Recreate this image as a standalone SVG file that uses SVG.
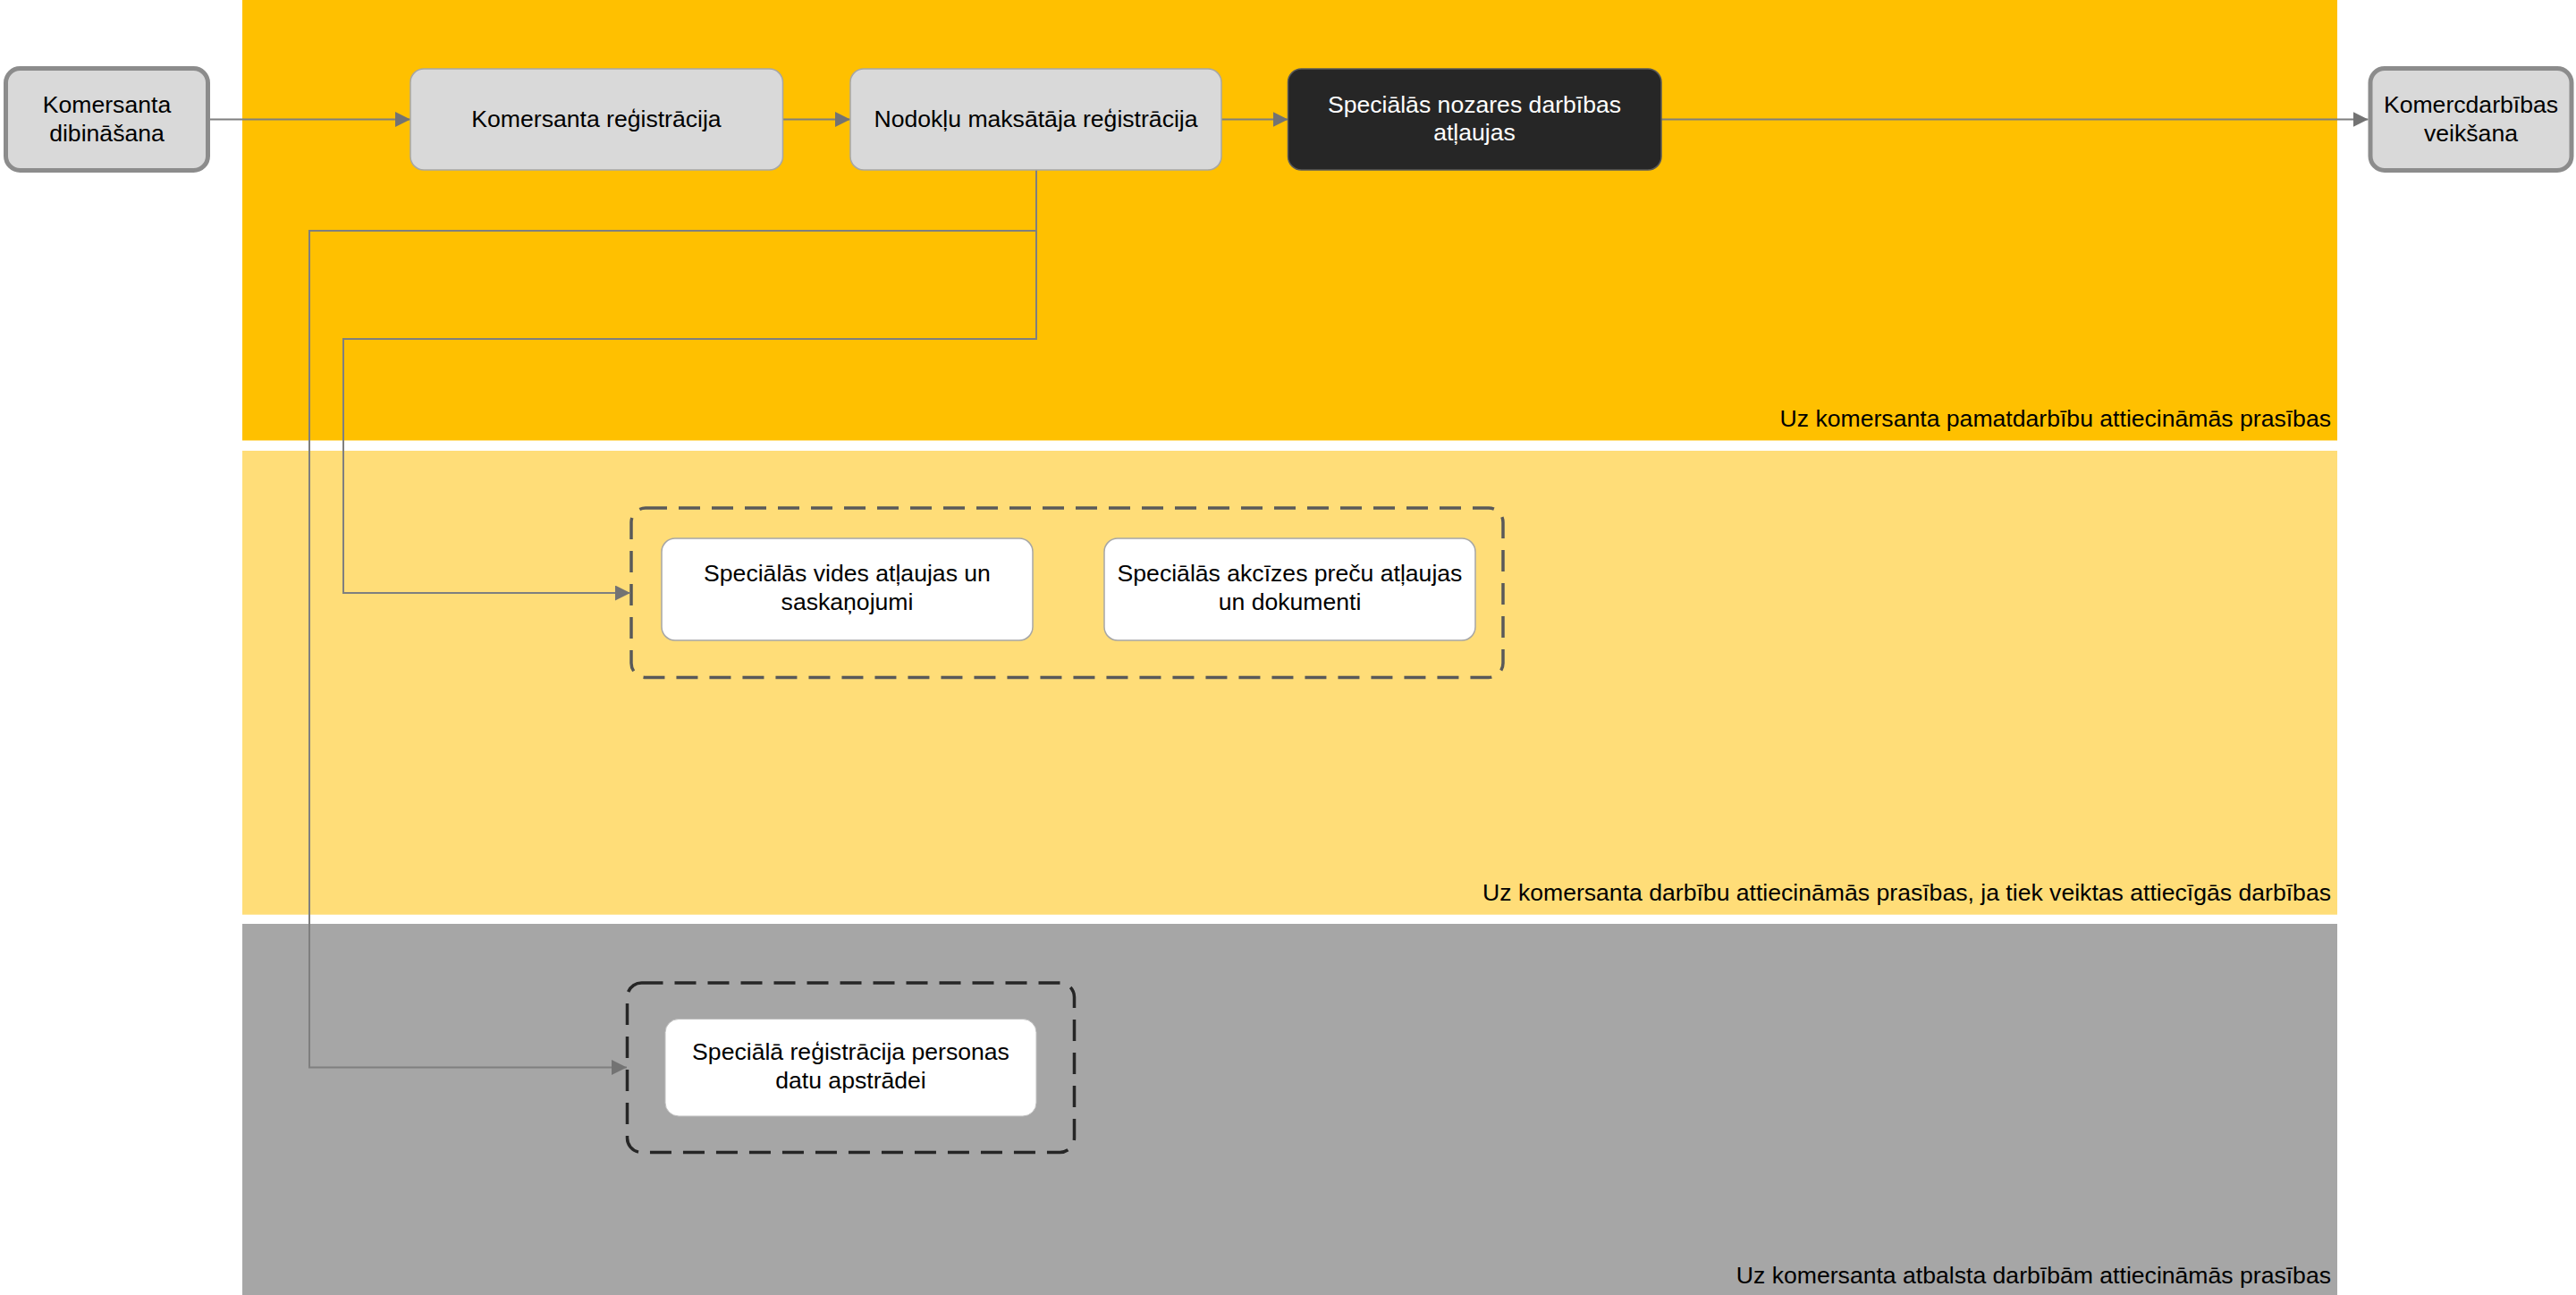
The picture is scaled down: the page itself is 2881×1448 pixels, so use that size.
<svg xmlns="http://www.w3.org/2000/svg" width="2881" height="1448" viewBox="0 0 2881 1448">
<style>
text{font-family:"Liberation Sans",Arial,sans-serif;font-size:26.6px;fill:#000}
.c{text-anchor:middle}
.lbl{text-anchor:end}
.w{fill:#fff}
.term{fill:#d9d9d9;stroke:#8c8c8c;stroke-width:5}
.step{fill:#d9d9d9;stroke:#a6a6a6;stroke-width:1.5}
.dark{fill:#262626;stroke:#595959;stroke-width:1.5}
.white{fill:#fff;stroke:#a6a6a6;stroke-width:1.5}
.grp{fill:none;stroke-width:3.5;stroke-dasharray:24 13}
.conn{fill:none;stroke:#7f7f7f;stroke-width:2}
</style>
<defs>
<marker id="arr" viewBox="0 0 17 17" refX="17" refY="8.5" markerWidth="17" markerHeight="17" markerUnits="userSpaceOnUse" orient="auto">
<path d="M0,0 L17,8.5 L0,17 z" fill="#737373"/>
</marker>
</defs>
<g id="bands">
<rect x="271" y="0" width="2343" height="492.5" fill="#ffc000"/>
<rect x="271" y="504" width="2343" height="518.7" fill="#ffdd78"/>
<rect x="271" y="1033" width="2343" height="415" fill="#a6a6a6"/>
<text class="lbl" x="2607" y="477">Uz komersanta pamatdarbību attiecināmās prasības</text>
<text class="lbl" x="2607" y="1006.5">Uz komersanta darbību attiecināmās prasības, ja tiek veiktas attiecīgās darbības</text>
<text class="lbl" x="2607" y="1435">Uz komersanta atbalsta darbībām attiecināmās prasības</text>
</g>
<g id="group-yellow">
<rect class="grp" x="706" y="568" width="975" height="189.5" rx="16" stroke="#595959"/>
</g>
<g id="group-gray">
<rect class="grp" x="701.5" y="1099" width="500" height="189.5" rx="16" stroke="#262626"/>
</g>
<g id="connectors">
<line class="conn" x1="235" y1="133.5" x2="459" y2="133.5" marker-end="url(#arr)"/>
<line class="conn" x1="875.5" y1="133.5" x2="951" y2="133.5" marker-end="url(#arr)"/>
<line class="conn" x1="1366" y1="133.5" x2="1440.5" y2="133.5" marker-end="url(#arr)"/>
<line class="conn" x1="1858" y1="133.5" x2="2648.5" y2="133.5" marker-end="url(#arr)"/>
<polyline class="conn" points="1159,190 1159,379 384,379 384,663 705,663" marker-end="url(#arr)"/>
<polyline class="conn" points="1159,190 1159,258 346,258 346,1193.5 701,1193.5" marker-end="url(#arr)"/>
</g>
<g id="n-dibinasana">
<rect class="term" x="6.5" y="76.5" width="226" height="114" rx="16"/>
<text class="c" x="119.5" y="125.5">Komersanta</text>
<text class="c" x="119.5" y="157.5">dibināšana</text>
</g>
<g id="n-registracija">
<rect class="step" x="459" y="77" width="416.5" height="113" rx="15"/>
<text class="c" x="667" y="142">Komersanta reģistrācija</text>
</g>
<g id="n-nodoklu">
<rect class="step" x="951" y="77" width="415" height="113" rx="15"/>
<text class="c" x="1158.5" y="142">Nodokļu maksātāja reģistrācija</text>
</g>
<g id="n-nozares">
<rect class="dark" x="1440.5" y="77" width="417.5" height="113" rx="15"/>
<text class="c w" x="1649" y="125.5">Speciālās nozares darbības</text>
<text class="c w" x="1649" y="157">atļaujas</text>
</g>
<g id="n-veiksana">
<rect class="term" x="2651" y="76.5" width="225" height="114" rx="16"/>
<text class="c" x="2763.5" y="125.5">Komercdarbības</text>
<text class="c" x="2763.5" y="157.5">veikšana</text>
</g>
<g id="n-vides">
<rect class="white" x="740" y="602" width="415" height="114" rx="15"/>
<text class="c" x="947.5" y="650">Speciālās vides atļaujas un</text>
<text class="c" x="947.5" y="681.5">saskaņojumi</text>
</g>
<g id="n-akcizes">
<rect class="white" x="1235" y="602" width="415" height="114" rx="15"/>
<text class="c" x="1442.5" y="650">Speciālās akcīzes preču atļaujas</text>
<text class="c" x="1442.5" y="681.5">un dokumenti</text>
</g>
<g id="n-personas">
<rect x="744" y="1139.5" width="415" height="108.5" rx="15" fill="#fff" stroke="#bfbfbf" stroke-width="1"/>
<text class="c" x="951.5" y="1185">Speciālā reģistrācija personas</text>
<text class="c" x="951.5" y="1216.5">datu apstrādei</text>
</g>
</svg>
